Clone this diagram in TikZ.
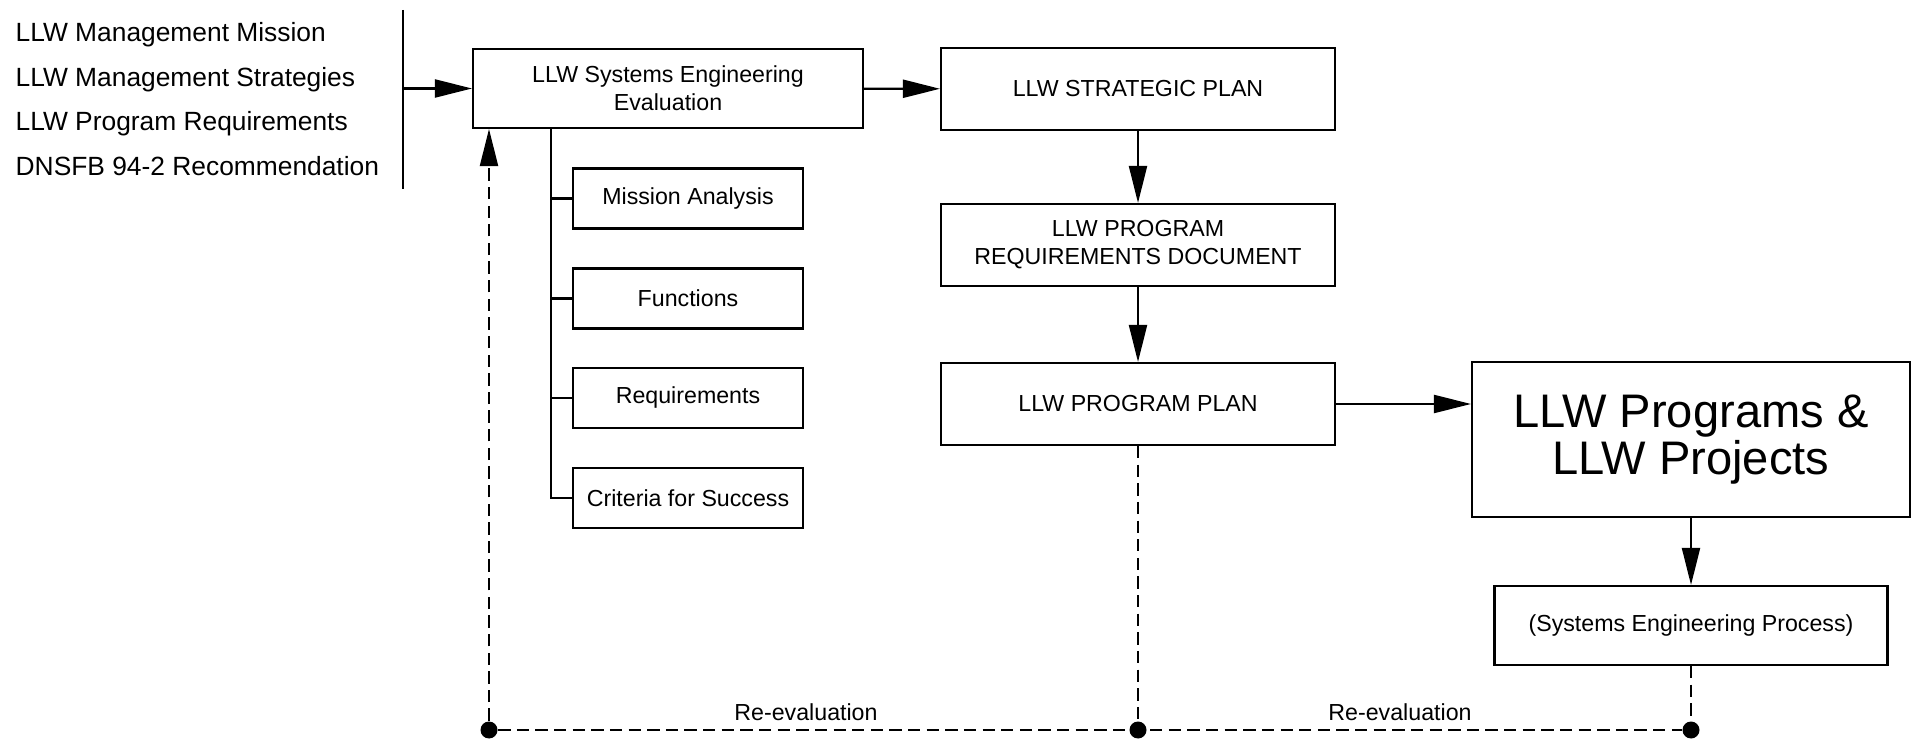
\documentclass[tikz,border=0pt]{standalone}
\usepackage{fontspec}
\setmainfont{Liberation Sans}
\usetikzlibrary{arrows.meta}

\tikzset{
  blk/.style={draw, line width=0.6pt, align=center, inner sep=0pt,
    font=\fontsize{6.6}{8}\selectfont},
  sub/.style={blk, minimum width=2.30cm, minimum height=0.60cm},
  arr/.style={line width=0.6pt, -{Triangle[length=3.7mm,width=1.8mm]}},
  reval/.style={line width=0.6pt, dash pattern=on 3.5pt off 1.8pt},
  dot/.style={circle, fill, inner sep=0pt, minimum size=1.7mm},
  item/.style={anchor=base west, inner sep=0pt, font=\fontsize{7.5}{9}\selectfont}
}

\begin{document}
\begin{tikzpicture}
\useasboundingbox (0,0) rectangle (19.14,7.39);

% inputs
\node[item] (mission) at (0.15,6.97) {LLW Management Mission};
\node[item] (strategies) at (0.15,6.525) {LLW Management Strategies};
\node[item] (progreq) at (0.15,6.08) {LLW Program Requirements};
\node[item] (dnsfb) at (0.15,5.635) {DNSFB 94-2 Recommendation};

\coordinate (bartop) at (4.03,7.29);
\coordinate (barbot) at (4.03,5.50);
\coordinate (barmid) at (4.03,6.505);
\draw[line width=0.6pt] (bartop) -- (barbot);

% main boxes
\node[blk, minimum width=3.90cm, minimum height=0.79cm] (eval) at (6.68,6.505) {LLW Systems Engineering\\Evaluation};
\node[blk, minimum width=3.94cm, minimum height=0.82cm] (strat) at (11.38,6.50) {LLW STRATEGIC PLAN};
\node[blk, minimum width=3.94cm, minimum height=0.82cm] (reqdoc) at (11.38,4.94) {LLW PROGRAM\\REQUIREMENTS DOCUMENT};
\node[blk, minimum width=3.94cm, minimum height=0.82cm] (plan) at (11.38,3.35) {LLW PROGRAM PLAN};
\node[blk, minimum width=4.38cm, minimum height=1.55cm, font=\fontsize{13.4}{13.4}\selectfont] (progs) at (16.91,2.995) {LLW Programs \&\\LLW Projects};
\node[blk, minimum width=3.93cm, minimum height=0.79cm] (sep) at (16.91,1.135) {(Systems Engineering Process)};

% evaluation steps
\node[sub] (mana) at (6.88,5.405) {Mission Analysis};
\node[sub] (func) at (6.88,4.405) {Functions};
\node[sub] (reqs) at (6.88,3.41) {Requirements};
\node[sub] (crit) at (6.88,2.41) {Criteria for Success};

\coordinate (trunk) at (5.51,0);
\draw[line width=0.6pt] (eval.south -| trunk) -- (crit.west -| trunk) -- (crit.west);
\foreach \s in {mana,func,reqs}
  \draw[line width=0.6pt] (\s.west -| trunk) -- (\s.west);

% flow
\draw[arr] (barmid) -- (eval.west);
\draw[arr] (eval) -- (strat);
\draw[arr] (strat) -- (reqdoc);
\draw[arr] (reqdoc) -- (plan);
\draw[arr] (plan.east) -- (plan.east -| progs.west);
\draw[arr] (progs) -- (sep);

% re-evaluation loop
\node[dot] (d1) at (4.89,0.09) {};
\node[dot] (d2) at (11.38,0.09) {};
\node[dot] (d3) at (16.91,0.09) {};

\draw[reval] (d1) -- (d3);
\draw[reval] (plan) -- (d2);
\draw[reval] (sep) -- (d3);
\draw[reval, -{Triangle[length=3.7mm,width=1.8mm]}] (d1) -- (d1 |- eval.south);

\node[font=\fontsize{6.6}{8}\selectfont] (reval1) at (8.06,0.27) {Re-evaluation};
\node[font=\fontsize{6.6}{8}\selectfont] (reval2) at (14.00,0.27) {Re-evaluation};
\end{tikzpicture}
\end{document}
